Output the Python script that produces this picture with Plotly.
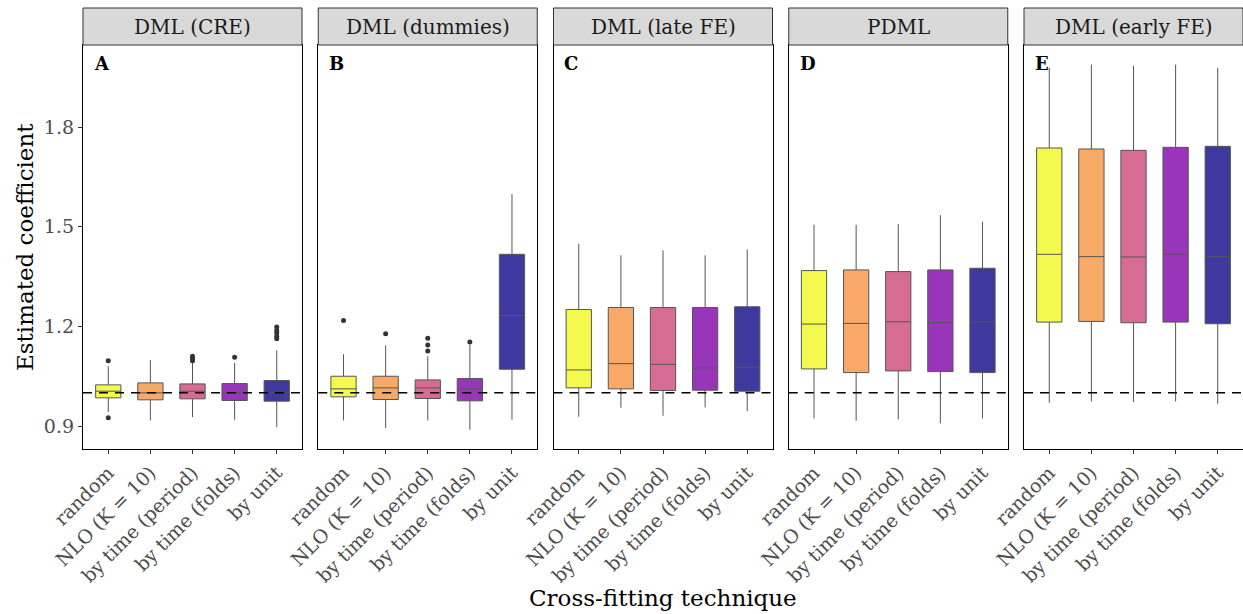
import plotly.graph_objects as go

panels = ["DML (CRE)", "DML (dummies)", "DML (late FE)", "PDML", "DML (early FE)"]
letters = ["A", "B", "C", "D", "E"]
techniques = ["random", "NLO (K = 10)", "by time (period)", "by time (folds)", "by unit"]
colors = ["rgb(243,250,77)", "rgb(249,169,103)", "rgb(214,107,147)", "rgb(152,53,185)", "rgb(61,57,159)"]

# per panel: lists over techniques
q1 = [
    [0.985, 0.979, 0.982, 0.977, 0.975],
    [0.988, 0.980, 0.983, 0.976, 1.071],
    [1.015, 1.012, 1.007, 1.008, 1.005],
    [1.072, 1.061, 1.066, 1.064, 1.061],
    [1.213, 1.215, 1.211, 1.213, 1.208],
]
med = [
    [1.005, 1.000, 1.005, 1.000, 1.002],
    [1.012, 1.015, 1.015, 1.012, 1.233],
    [1.069, 1.088, 1.086, 1.075, 1.077],
    [1.207, 1.209, 1.214, 1.211, 1.213],
    [1.417, 1.410, 1.409, 1.418, 1.410],
]
q3 = [
    [1.024, 1.030, 1.027, 1.028, 1.037],
    [1.050, 1.050, 1.039, 1.043, 1.417],
    [1.251, 1.257, 1.257, 1.257, 1.259],
    [1.368, 1.370, 1.365, 1.370, 1.375],
    [1.737, 1.734, 1.730, 1.739, 1.742],
]
lo = [
    [0.942, 0.917, 0.927, 0.919, 0.897],
    [0.917, 0.894, 0.917, 0.889, 0.919],
    [0.928, 0.955, 0.931, 0.956, 0.945],
    [0.923, 0.916, 0.920, 0.908, 0.923],
    [0.970, 0.974, 0.972, 0.974, 0.967],
]
hi = [
    [1.080, 1.099, 1.090, 1.090, 1.128],
    [1.116, 1.143, 1.110, 1.145, 1.598],
    [1.449, 1.414, 1.429, 1.414, 1.432],
    [1.506, 1.506, 1.508, 1.535, 1.515],
    [1.978, 1.988, 1.984, 1.988, 1.978],
]
outliers = [
    [[1.097, 0.925], [], [1.097, 1.104, 1.110], [1.107], [1.163, 1.170, 1.180, 1.188, 1.198]],
    [[1.218], [1.178], [1.126, 1.144, 1.164], [1.153], []],
    [[], [], [], [], []],
    [[], [], [], [], []],
    [[], [], [], [], []],
]
yticks = [0.9, 1.2, 1.5, 1.8]

FONT = "DejaVu Serif"
W, H = 1243, 614
ml, mr, mt, mb = 83, 0, 8, 165
plot_w = W - ml - mr
plot_h_total = H - mt - mb
panel_w = 219
gap = (plot_w - 5 * panel_w) / 4
strip_h = 37
ytop = (plot_h_total - strip_h) / plot_h_total

fig = go.Figure()
shapes = []
annotations = []
for p in range(5):
    xa = "x" if p == 0 else f"x{p+1}"
    ya = "y" if p == 0 else f"y{p+1}"
    x0 = (p * (panel_w + gap)) / plot_w
    x1 = (p * (panel_w + gap) + panel_w) / plot_w
    for t in range(5):
        fig.add_trace(go.Box(
            x=[techniques[t]], q1=[q1[p][t]], median=[med[p][t]], q3=[q3[p][t]],
            lowerfence=[lo[p][t]], upperfence=[hi[p][t]],
            fillcolor=colors[t], line=dict(color="#555555", width=1),
            whiskerwidth=0, width=0.6, boxpoints=False, showlegend=False,
            xaxis=xa, yaxis=ya,
        ))
        if outliers[p][t]:
            fig.add_trace(go.Scatter(
                x=[techniques[t]] * len(outliers[p][t]), y=outliers[p][t], mode="markers",
                marker=dict(color="#333333", size=5), showlegend=False,
                xaxis=xa, yaxis=ya,
            ))
    axkey = "xaxis" if p == 0 else f"xaxis{p+1}"
    aykey = "yaxis" if p == 0 else f"yaxis{p+1}"
    fig.update_layout(**{
        axkey: dict(domain=[x0, min(x1, 1)], anchor=ya, type="category",
                    categoryorder="array", categoryarray=techniques,
                    range=[-0.6, 4.6], showgrid=False, zeroline=False,
                    showline=True, mirror=True, linecolor="black", linewidth=1.3,
                    ticks="outside", ticklen=4, tickcolor="#333333", tickwidth=1,
                    tickangle=-45,
                    tickfont=dict(family=FONT, size=19, color="#4D4D4D")),
        aykey: dict(domain=[0, ytop], anchor=xa, range=[0.831, 2.047],
                    showgrid=False, zeroline=False,
                    showline=True, mirror=True, linecolor="black", linewidth=1.3,
                    ticks="outside" if p == 0 else "", ticklen=4, tickcolor="#333333",
                    tickvals=yticks, ticktext=[f"{v:.1f}" for v in yticks],
                    showticklabels=(p == 0),
                    tickfont=dict(family=FONT, size=19, color="#4D4D4D"),
                    matches=None if p == 0 else "y"),
    })
    # reference line
    shapes.append(dict(type="line", xref=f"{xa} domain", yref=ya, x0=0, x1=1, y0=1.0, y1=1.0,
                       line=dict(color="black", width=1.5, dash="9px,7px"), layer="above"))
    # strip
    shapes.append(dict(type="rect", xref="paper", yref="paper", x0=x0, x1=min(x1, 1),
                       y0=ytop, y1=1, fillcolor="#D9D9D9", line=dict(color="#333333", width=1)))
    annotations.append(dict(text=panels[p], xref="paper", yref="paper",
                            x=(x0 + x1) / 2, y=(ytop + 1) / 2, showarrow=False,
                            xanchor="center", yanchor="middle",
                            font=dict(family=FONT, size=20, color="#1A1A1A")))
    annotations.append(dict(text=f"<b>{letters[p]}</b>", xref=f"{xa} domain", yref=f"{ya} domain",
                            x=0.04, y=0.955, showarrow=False, xanchor="left", yanchor="middle",
                            font=dict(family=FONT, size=18, color="black")))

annotations.append(dict(text="Cross-fitting technique", xref="paper", yref="paper",
                        x=0.5, y=-(598 - (H - mb)) / plot_h_total, showarrow=False,
                        xanchor="center", yanchor="middle",
                        font=dict(family=FONT, size=23, color="black")))
annotations.append(dict(text="Estimated coefficient", xref="paper", yref="paper",
                        x=-(83 - 25) / plot_w, y=ytop / 2, showarrow=False,
                        xanchor="center", yanchor="middle", textangle=-90,
                        font=dict(family=FONT, size=23, color="black")))

fig.update_layout(width=W, height=H, margin=dict(l=ml, r=mr, t=mt, b=mb, pad=0),
                  plot_bgcolor="white", paper_bgcolor="white",
                  shapes=shapes, annotations=annotations, boxgap=0)
fig.write_html("out.html")
